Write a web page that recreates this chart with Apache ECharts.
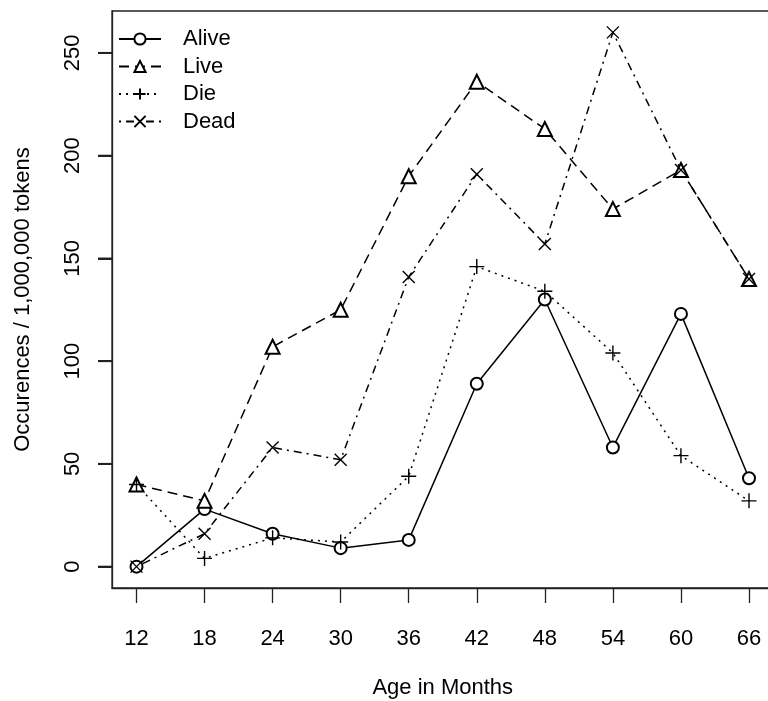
<!DOCTYPE html>
<html>
<head>
<meta charset="utf-8">
<script src="https://cdn.jsdelivr.net/npm/echarts@6/dist/echarts.min.js"></script>
<style>
  html, body { margin: 0; padding: 0; background: #fff; }
  #chart { width: 768px; height: 701px; }
</style>
</head>
<body>
<div id="chart"></div>
<script>
// ages on the x axis
var months = [12, 18, 24, 30, 36, 42, 48, 54, 60, 66];
var yTicks = [0, 50, 100, 150, 200, 250];

// occurrences per million tokens
var alive = [0, 28, 16, 9, 13, 89, 130, 58, 123, 43];
var live  = [40, 32, 107, 125, 190, 236, 213, 174, 193, 140];
var die   = [40, 4, 14, 12, 44, 146, 134, 104, 54, 32];
var dead  = [0, 16, 58, 52, 141, 191, 157, 260, 193, 140];

var font = 'Liberation Sans, Arial, Helvetica, sans-serif';

// R pads the data range by 4% on each side
var xMin = 9.84, xMax = 68.16;
var yMin = -10.4, yMax = 270.4;

function pairs(vals) {
  return months.map(function (m, i) { return [m, vals[i]]; });
}

function mkSeries(name, vals, symbol, size, dash) {
  return {
    name: name,
    type: 'line',
    data: pairs(vals),
    symbol: symbol,
    symbolSize: size,
    showAllSymbol: true,
    itemStyle: { color: '#000', borderColor: '#000', borderWidth: 1.4 },
    lineStyle: { color: '#000', width: 1.5, type: dash },
    emphasis: { disabled: true },
    animation: false
  };
}

var chart = echarts.init(document.getElementById('chart'));

var option = {
  backgroundColor: '#fff',
  animation: false,
  grid: {
    left: 112, top: 11, width: 661.5, height: 577,
    outerBoundsMode: 'none',
    containLabel: false,
    show: true, borderColor: '#222', borderWidth: 1.3,
    backgroundColor: 'transparent'
  },
  legend: {
    orient: 'vertical',
    left: 118, top: 28,
    padding: 0,
    itemGap: 5.5,
    itemWidth: 42,
    itemHeight: 14,
    textStyle: { color: '#000', fontSize: 22, fontFamily: font, lineHeight: 22, padding: [0, 0, 0, 17] },
    data: ['Alive', 'Live', 'Die', 'Dead']
  },
  xAxis: {
    type: 'value',
    min: xMin, max: xMax,
    name: 'Age in Months',
    nameLocation: 'middle',
    nameGap: 89,
    nameTextStyle: { color: '#000', fontSize: 22, fontFamily: font },
    axisLine: { show: true, onZero: false, lineStyle: { color: '#222', width: 1.3 } },
    axisTick: { show: true, length: 15, customValues: months, lineStyle: { color: '#222', width: 1.3 } },
    axisLabel: { customValues: months, color: '#000', fontSize: 22, fontFamily: font, margin: 40 },
    splitLine: { show: false }
  },
  yAxis: {
    type: 'value',
    min: yMin, max: yMax,
    name: 'Occurences / 1,000,000 tokens',
    nameLocation: 'middle',
    nameGap: 78,
    nameTextStyle: { color: '#000', fontSize: 22, fontFamily: font },
    axisLine: { show: true, onZero: false, lineStyle: { color: '#222', width: 1.3 } },
    axisTick: { show: true, inside: false, length: 14, customValues: yTicks, lineStyle: { color: '#222', width: 2 } },
    axisLabel: { customValues: yTicks, rotate: 90, color: '#000', fontSize: 22, fontFamily: font, margin: 28 },
    splitLine: { show: false }
  },
  series: [
    mkSeries('Alive', alive, 'emptyCircle', 12, 'solid'),
    mkSeries('Live', live, 'emptyTriangle', 14, [10, 6]),
    mkSeries('Die', die, 'path://M0,6L12,6M6,0L6,12', 15, [2, 5]),
    mkSeries('Dead', dead, 'path://M0,0L10,10M10,0L0,10', 12, [2, 5, 8, 5]),
    {
      // y tick marks, drawn as short bars just left of the box
      name: 'yticks',
      type: 'scatter',
      data: yTicks.map(function (v) { return [xMin, v]; }),
      symbol: 'rect',
      symbolSize: [14, 2],
      symbolOffset: [-7, 0],
      itemStyle: { color: '#222', borderWidth: 0 },
      clip: false,
      z: 10,
      silent: true,
      emphasis: { disabled: true },
      animation: false
    }
  ]
};

chart.setOption(option);
</script>
</body>
</html>
